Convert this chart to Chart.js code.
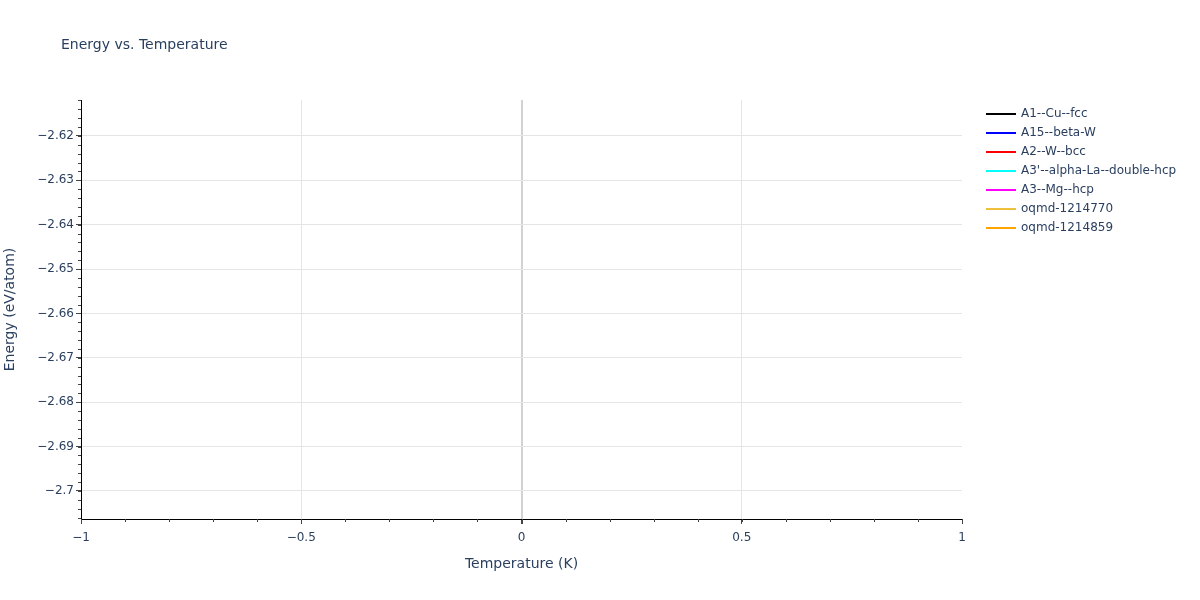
<!DOCTYPE html>
<html>
<head>
<meta charset="utf-8">
<script src="https://cdn.jsdelivr.net/npm/chart.js@4"></script>
<style>
  html, body { margin: 0; padding: 0; background: #fff; }
  #wrap { width: 1200px; height: 600px; position: relative; }
</style>
</head>
<body>
<div id="wrap"><canvas id="energyChart"></canvas></div>
<script>
// series shown in the legend; no line segments are visible in the plot
var seriesNames = ['A1--Cu--fcc', 'A15--beta-W', 'A2--W--bcc', "A3'--alpha-La--double-hcp", 'A3--Mg--hcp', 'oqmd-1214770', 'oqmd-1214859'];
var seriesColors = ['#000000', '#0000ff', '#ff0000', '#00ffff', '#ff00ff', '#eec03c', '#ffa500'];
var seriesData = [[], [], [], [], [], [], []];

var xRange = [-1, 1];
var yRange = [-2.70631, -2.61189];
var xTicks = [-1, -0.5, 0, 0.5, 1];
var yTicks = [-2.70, -2.69, -2.68, -2.67, -2.66, -2.65, -2.64, -2.63, -2.62];

var FONT = '"DejaVu Sans", Verdana, sans-serif';
var TEXT = '#2a3f5f';

function fmt(v) {
    var s = String(Math.round(v * 1000) / 1000);
    return s.replace('-', '\u2212');
}

var extras = {
    id: 'extras',
    afterDraw: function (chart) {
        var ctx = chart.ctx;
        var xs = chart.scales.x, ys = chart.scales.y;
        var area = chart.chartArea;
        ctx.save();
        // minor ticks
        ctx.strokeStyle = '#444';
        ctx.lineWidth = 1;
        var v, p;
        for (v = -2.706; v <= -2.612; v += 0.002) {
            p = Math.round(ys.getPixelForValue(v)) + 0.5;
            ctx.beginPath(); ctx.moveTo(area.left - 3, p); ctx.lineTo(area.left, p); ctx.stroke();
        }
        for (v = -1; v <= 1.0001; v += 0.1) {
            p = Math.round(xs.getPixelForValue(v)) + 0.5;
            ctx.beginPath(); ctx.moveTo(p, area.bottom); ctx.lineTo(p, area.bottom + 3); ctx.stroke();
        }
        // title
        ctx.fillStyle = TEXT;
        ctx.font = '14px ' + FONT;
        ctx.textBaseline = 'middle';
        ctx.textAlign = 'left';
        ctx.fillText('Energy vs. Temperature', 61, 45);
        // legend
        ctx.font = '12px ' + FONT;
        chart.data.datasets.forEach(function (ds, i) {
            var y = 114 + i * 19;
            ctx.strokeStyle = ds.borderColor;
            ctx.lineWidth = 2;
            ctx.beginPath(); ctx.moveTo(986, y); ctx.lineTo(1016, y); ctx.stroke();
            ctx.fillStyle = TEXT;
            ctx.fillText(ds.label, 1021, y);
        });
        ctx.restore();
    }
};

new Chart(document.getElementById('energyChart').getContext('2d'), {
    type: 'scatter',
    data: {
        datasets: seriesNames.map(function (name, i) {
            return {
                label: name,
                data: seriesData[i],
                showLine: true,
                borderColor: seriesColors[i],
                backgroundColor: seriesColors[i],
                borderWidth: 2,
                pointRadius: 0
            };
        })
    },
    options: {
        responsive: true,
        maintainAspectRatio: false,
        animation: false,
        layout: { padding: { top: 100, right: 238, left: 0, bottom: 0 } },
        plugins: { legend: { display: false }, tooltip: { enabled: false }, title: { display: false } },
        scales: {
            x: {
                type: 'linear',
                min: xRange[0],
                max: xRange[1],
                afterFit: function (s) { s.height = 81; },
                afterBuildTicks: function (s) { s.ticks = xTicks.map(function (v) { return { value: v }; }); },
                grid: {
                    color: function (c) {
                        if (!c.tick) return '#e5e5e5';
                        if (c.tick.value === 0) return '#d2d2d2';
                        if (Math.abs(c.tick.value) === 1) return 'rgba(0,0,0,0)';
                        return '#e5e5e5';
                    },
                    lineWidth: function (c) { return c.tick && c.tick.value === 0 ? 2 : 1; },
                    tickColor: '#444',
                    tickLength: 5
                },
                border: { color: '#000', width: 1 },
                ticks: {
                    color: TEXT,
                    font: { family: FONT, size: 12 },
                    padding: 7,
                    maxRotation: 0,
                    callback: function (v) { return fmt(v); }
                },
                title: {
                    display: true,
                    text: 'Temperature (K)',
                    color: TEXT,
                    font: { family: FONT, size: 14 },
                    padding: { top: 0, bottom: 27 }
                }
            },
            y: {
                type: 'linear',
                min: yRange[0],
                max: yRange[1],
                afterFit: function (s) { s.width = 81; },
                afterBuildTicks: function (s) { s.ticks = yTicks.map(function (v) { return { value: v }; }); },
                grid: {
                    color: '#e5e5e5',
                    tickColor: '#444',
                    tickLength: 5
                },
                border: { color: '#000', width: 1 },
                ticks: {
                    color: TEXT,
                    font: { family: FONT, size: 12 },
                    padding: 2,
                    callback: function (v) { return fmt(v); }
                },
                title: {
                    display: true,
                    text: 'Energy (eV/atom)',
                    color: TEXT,
                    font: { family: FONT, size: 14 },
                    padding: { top: 2, bottom: 0 }
                }
            }
        }
    },
    plugins: [extras]
});
</script>
</body>
</html>
